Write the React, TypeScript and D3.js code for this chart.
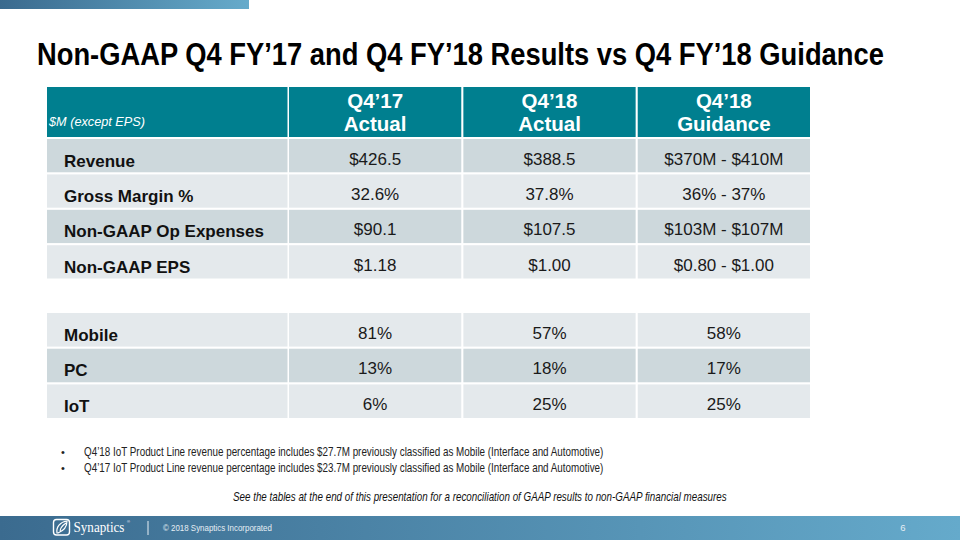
import React, { useLayoutEffect, useRef, useState } from "react";
import * as d3 from "d3";

const titleText = "Non-GAAP Q4 FY’17 and Q4 FY’18 Results vs Q4 FY’18 Guidance";
const unitLabel = "$M (except EPS)";
const headerTop = ["Q4’17", "Q4’18", "Q4’18"];
const headerBottom = ["Actual", "Actual", "Guidance"];

const metricLabels = ["Revenue", "Gross Margin %", "Non-GAAP Op Expenses", "Non-GAAP EPS"];
const q417Actual = ["$426.5", "32.6%", "$90.1", "$1.18"];
const q418Actual = ["$388.5", "37.8%", "$107.5", "$1.00"];
const q418Guidance = ["$370M - $410M", "36% - 37%", "$103M - $107M", "$0.80 - $1.00"];

const segmentLabels = ["Mobile", "PC", "IoT"];
const segQ417 = ["81%", "13%", "6%"];
const segQ418 = ["57%", "18%", "25%"];
const segGuidance = ["58%", "17%", "25%"];

const bulletNotes = [
  "Q4’18 IoT Product Line revenue percentage includes $27.7M previously classified as Mobile (Interface and Automotive)",
  "Q4’17 IoT Product Line revenue percentage includes $23.7M previously classified as Mobile (Interface and Automotive)",
];
const footNote =
  "See the tables at the end of this presentation for a reconciliation of GAAP results to non-GAAP financial measures";
const brandName = "Synaptics";
const copyright = "© 2018 Synaptics Incorporated";
const pageNumber = "6";

const TEAL = "#007f8f";
const DARK = "#cdd8dc";
const LIGHT = "#e4e9ec";
const SANS = "'Liberation Sans', Arial, sans-serif";
const SERIF = "'Liberation Serif', 'DejaVu Serif', serif";

type FitProps = {
  x: number;
  y: number;
  width: number;
  children: string;
  [k: string]: any;
};

function FitText({ x, y, width, children, ...rest }: FitProps) {
  const ref = useRef<SVGTextElement>(null);
  const [sx, setSx] = useState(1);
  useLayoutEffect(() => {
    if (ref.current) {
      const w = ref.current.getComputedTextLength();
      if (w > 0) setSx(width / w);
    }
  }, [width, children]);
  return (
    <text ref={ref} x={0} y={0} transform={`translate(${x},${y}) scale(${sx},1)`} {...rest}>
      {children}
    </text>
  );
}

export default function App() {
  const colKeys = [0, 1, 2];
  const xCol = d3.scaleBand<number>().domain(colKeys).range([289, 810]).paddingInner(0.012);
  const labelX0 = 47;
  const labelX1 = 287.5;

  const rows1 = d3.range(metricLabels.length);
  const y1 = d3.scaleBand<number>().domain(rows1).range([139, 278.5]).paddingInner(0.06);
  const rows2 = d3.range(segmentLabels.length);
  const y2 = d3.scaleBand<number>().domain(rows2).range([313, 418]).paddingInner(0.06);

  const table1Values = [q417Actual, q418Actual, q418Guidance];
  const table2Values = [segQ417, segQ418, segGuidance];

  const renderRows = (
    labels: string[],
    values: string[][],
    y: d3.ScaleBand<number>,
    startDark: boolean,
    key: string
  ) =>
    labels.map((lab, i) => {
      const yy = y(i)!;
      const h = y.bandwidth();
      const fill = (i % 2 === 0) === startDark ? DARK : LIGHT;
      return (
        <g key={key + i}>
          <rect x={labelX0} y={yy} width={labelX1 - labelX0} height={h} fill={fill} />
          {colKeys.map((c) => (
            <rect key={c} x={xCol(c)} y={yy} width={xCol.bandwidth()} height={h} fill={fill} />
          ))}
          <text x={64} y={yy + 27.5} fontFamily={SANS} fontWeight="bold" fontSize={17} fill="#111">
            {lab}
          </text>
          {colKeys.map((c) => (
            <text
              key={"v" + c}
              x={xCol(c)! + xCol.bandwidth() / 2}
              y={yy + 25.5}
              textAnchor="middle"
              fontFamily={SANS}
              fontSize={17}
              fill="#1a1a1a"
            >
              {values[c][i]}
            </text>
          ))}
        </g>
      );
    });

  return (
    <svg
      width={960}
      height={540}
      style={{ position: "fixed", left: 0, top: 0, background: "#fff" }}
      xmlns="http://www.w3.org/2000/svg"
    >
      <defs>
        <linearGradient id="barGrad" x1="0" x2="1" y1="0" y2="0">
          <stop offset="0" stopColor="#3a6a8e" />
          <stop offset="1" stopColor="#66abcb" />
        </linearGradient>
        <linearGradient id="footGrad" x1="0" x2="1" y1="0" y2="0">
          <stop offset="0" stopColor="#3b6b8f" />
          <stop offset="1" stopColor="#65aacb" />
        </linearGradient>
      </defs>
      <rect x={0} y={0} width={960} height={540} fill="#fff" />
      {/* top accent bar */}
      <rect x={0} y={0} width={249} height={9} fill="url(#barGrad)" />

      {/* title */}
      <FitText x={37} y={65} width={847} fontFamily={SANS} fontWeight="bold" fontSize={31} fill="#000">
        {titleText}
      </FitText>

      {/* header row */}
      <rect x={labelX0} y={87} width={labelX1 - labelX0} height={50} fill={TEAL} />
      {colKeys.map((c) => (
        <rect key={"h" + c} x={xCol(c)} y={87} width={xCol.bandwidth()} height={50} fill={TEAL} />
      ))}
      <FitText x={49} y={126} width={96} fontFamily={SANS} fontStyle="italic" fontSize={13} fill="#fff">
        {unitLabel}
      </FitText>
      {colKeys.map((c) => (
        <g key={"ht" + c}>
          <text
            x={xCol(c)! + xCol.bandwidth() / 2}
            y={107.5}
            textAnchor="middle"
            fontFamily={SANS}
            fontWeight="bold"
            fontSize={20.5}
            fill="#fff"
          >
            {headerTop[c]}
          </text>
          <text
            x={xCol(c)! + xCol.bandwidth() / 2}
            y={131}
            textAnchor="middle"
            fontFamily={SANS}
            fontWeight="bold"
            fontSize={20.5}
            fill="#fff"
          >
            {headerBottom[c]}
          </text>
        </g>
      ))}

      {renderRows(metricLabels, table1Values, y1, true, "m")}
      {renderRows(segmentLabels, table2Values, y2, false, "s")}

      {/* bullet notes */}
      {bulletNotes.map((t, i) => (
        <g key={"b" + i}>
          <text x={61} y={456 + i * 15.5} fontFamily={SANS} fontSize={11} fill="#222">
            •
          </text>
          <FitText x={84} y={456 + i * 15.5} width={520} fontFamily={SANS} fontSize={12} fill="#222">
            {t}
          </FitText>
        </g>
      ))}

      {/* footnote */}
      <FitText x={233} y={501} width={494} fontFamily={SANS} fontStyle="italic" fontSize={12} fill="#111">
        {footNote}
      </FitText>

      {/* footer bar */}
      <rect x={0} y={516} width={960} height={24} fill="url(#footGrad)" />
      <rect x={53.5} y={519.5} width={16} height={15.5} rx={3} fill="none" stroke="#fff" strokeWidth={1.4} />
      <path
        d="M57,533 C56,527 60,522 67,521 C67,527 63,531 58,533 Z M60,532 C60,528 63,525 66,523"
        fill="none"
        stroke="#fff"
        strokeWidth={1.2}
      />
      <FitText x={73.5} y={532} width={51} fontFamily={SERIF} fontSize={15.5} fill="#fff">
        {brandName}
      </FitText>
      <text x={127} y={523} fontFamily={SANS} fontSize={4} fill="#fff">
        ®
      </text>
      <line x1={148} x2={148} y1={521} y2={535} stroke="#e8f0f5" strokeWidth={1} />
      <FitText x={163} y={531} width={109} fontFamily={SANS} fontSize={9} fill="#e6eef4">
        {copyright}
      </FitText>
      <text x={903} y={531} fontFamily={SANS} fontSize={9.5} fill="#e6eef4" textAnchor="middle">
        {pageNumber}
      </text>
    </svg>
  );
}
